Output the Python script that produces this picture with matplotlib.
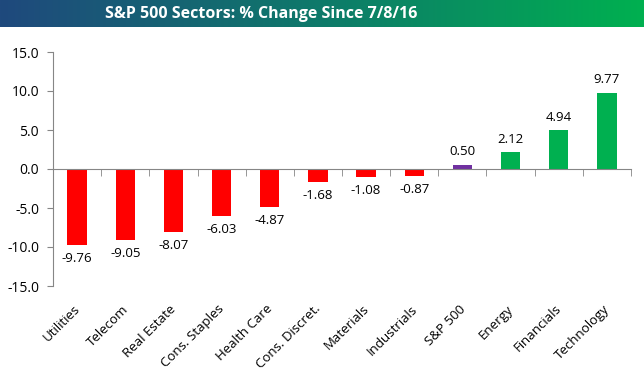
import matplotlib
matplotlib.use("Agg")
import matplotlib.pyplot as plt
import numpy as np
from matplotlib.colors import LinearSegmentedColormap
from matplotlib.transforms import blended_transform_factory

categories = ["Utilities", "Telecom", "Real Estate", "Cons. Staples", "Health Care",
              "Cons. Discret.", "Materials", "Industrials", "S&P 500", "Energy",
              "Financials", "Technology"]
values = [-9.76, -9.05, -8.07, -6.03, -4.87, -1.68, -1.08, -0.87, 0.50, 2.12, 4.94, 9.77]
yticks = [-15.0, -10.0, -5.0, 0.0, 5.0, 10.0, 15.0]
title = "S&P 500 Sectors: % Change Since 7/8/16"

RED, PURPLE, GREEN = "#FF0000", "#7030A0", "#00B050"
colors = [PURPLE if c == "S&P 500" else (GREEN if v > 0 else RED) for c, v in zip(categories, values)]

plt.rcParams['font.family'] = ['Open Sans', 'DejaVu Sans']
fig = plt.figure(figsize=(6.44, 3.77), dpi=100)

# title bar with gradient
tax = fig.add_axes([0, 1 - 27/377, 1, 27/377])
cmap = LinearSegmentedColormap.from_list("g", ["#1F497D", "#0E7A6A", "#00B050"])
tax.imshow(np.linspace(0, 1, 256)[None, :], aspect='auto', cmap=cmap, extent=[0, 1, 0, 1])
tax.set_axis_off()
tax.text(0.405, 0.5, title, color='white', fontsize=11.5, fontweight='bold',
         ha='center', va='center', transform=tax.transAxes)

ax = fig.add_axes([53/644, 1 - 286/377, (631 - 53)/644, (286 - 52)/377])
x = np.arange(len(categories))
ax.bar(x, values, width=0.4, color=colors)
ax.set_xlim(-0.5, len(categories) - 0.5)
ax.set_ylim(-15, 15)
ax.set_yticks(yticks)
ax.set_yticklabels([f"{t:.1f}" for t in yticks], fontsize=10)
for s in ['top', 'right']:
    ax.spines[s].set_visible(False)
ax.spines['left'].set_color('#868686')
ax.spines['bottom'].set_color('#868686')
ax.spines['bottom'].set_position(('data', 0))
ax.tick_params(axis='y', direction='out', length=4, color='#868686', pad=6)
ax.set_xticks([])
ax.set_xticks(np.arange(-0.5, len(categories)), minor=True)
ax.tick_params(axis='x', which='minor', direction='out', length=5, color='#868686', labelbottom=False)

for xi, v in zip(x, values):
    off = 5 if v > 0 else -5
    ax.annotate(f"{v:.2f}", (xi, v), xytext=(0, off), textcoords='offset points',
                ha='center', va='bottom' if v > 0 else 'top', fontsize=9.5)

trans = blended_transform_factory(ax.transData, ax.transAxes)
for xi, c in zip(x, categories):
    ax.text(xi - 0.08, -0.07, c, rotation=45, ha='right', va='top', rotation_mode='anchor',
            transform=trans, fontsize=9.5)

fig.savefig("out.png", dpi=100)
